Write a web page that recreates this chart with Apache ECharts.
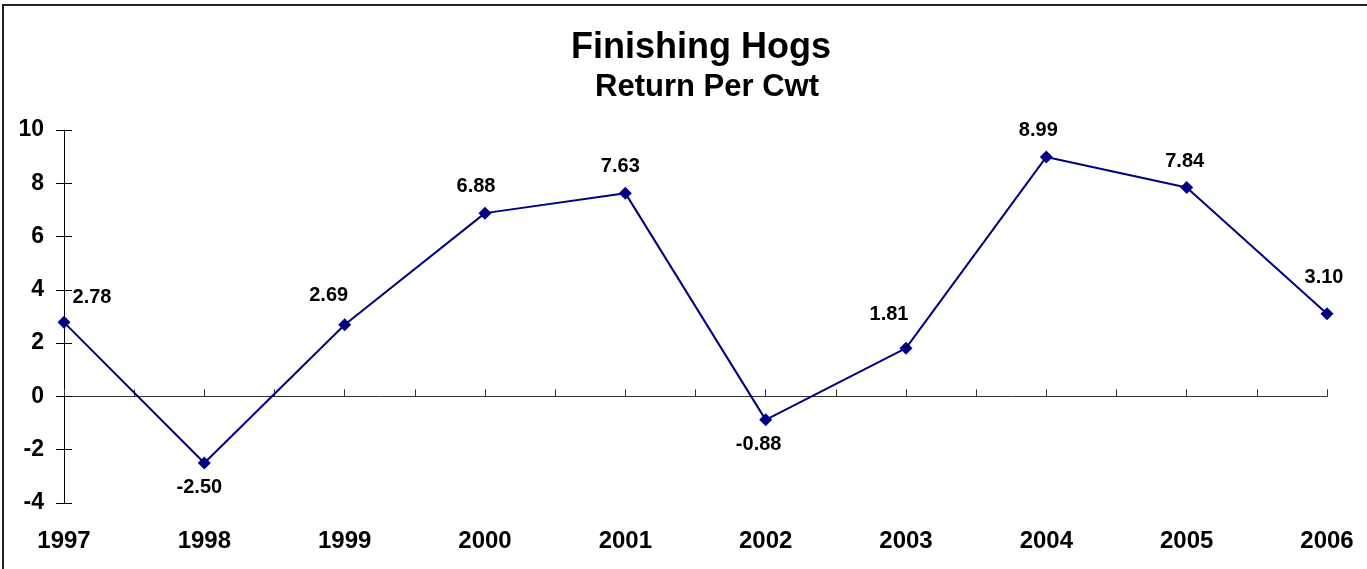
<!DOCTYPE html>
<html>
<head>
<meta charset="utf-8">
<script src="https://cdn.jsdelivr.net/npm/echarts@6/dist/echarts.min.js"></script>
<style>
  html, body { margin: 0; padding: 0; background: #fff; }
  #chart { width: 1367px; height: 569px; }
</style>
</head>
<body>
<div id="chart"></div>
<script>
// 年份与每百磅收益
const years = ['1997', '1998', '1999', '2000', '2001', '2002', '2003', '2004', '2005', '2006'];
const returns = [2.78, -2.50, 2.69, 6.88, 7.63, -0.88, 1.81, 8.99, 7.84, 3.10];
const yTicks = { min: -4, max: 10, interval: 2 };

// 半格刻度用的辅助类目（年份之间插空）
const halfSteps = years.flatMap((y, i) => (i === 0 ? [y] : ['', y]));

// 数据标签的微调（像素），按原图逐个挪
const labelNudge = [[28, 2], [-5, 0], [-16, -3], [-9, 0], [-5, 0], [-7, 0], [-17, -7], [-8, 0], [-2, 0], [-3, -10]];

const chart = echarts.init(document.getElementById('chart'));
const font = 'Arial, "Liberation Sans", sans-serif';

const option = {
  backgroundColor: '#fff',
  animation: false,
  graphic: [{
    type: 'rect',
    shape: { x: 3, y: 5, width: 1420, height: 620 },
    style: { fill: 'none', stroke: '#222', lineWidth: 2 },
    silent: true,
  }],
  title: [
    {
      text: 'Finishing Hogs',
      left: 696, top: 25,
      textAlign: 'center',
      textStyle: { fontFamily: font, fontWeight: 'bold', fontSize: 36, color: '#000' },
    },
    {
      text: 'Return Per Cwt',
      left: 702, top: 67,
      textAlign: 'center',
      textStyle: { fontFamily: font, fontWeight: 'bold', fontSize: 31, color: '#000' },
    },
  ],
  grid: { left: 64, right: 40, top: 130, bottom: 66 },
  xAxis: [
    {
      type: 'category',
      data: years,
      boundaryGap: false,
      axisLine: { onZero: true, lineStyle: { color: '#333', width: 1 } },
      axisTick: { inside: true, length: 7, lineStyle: { color: '#333' } },
      axisLabel: { show: false },
    },
    {
      type: 'category',
      data: halfSteps,
      boundaryGap: false,
      axisLine: { show: false, onZero: true },
      axisTick: { length: 7, interval: 0, lineStyle: { color: '#333' } },
      axisLabel: { show: false },
    },
    {
      type: 'category',
      data: years,
      boundaryGap: false,
      position: 'bottom',
      axisLine: { show: false, onZero: false },
      axisTick: { show: false },
      axisLabel: {
        margin: 26, interval: 0,
        fontFamily: font, fontWeight: 'bold', fontSize: 24, color: '#000',
      },
    },
  ],
  yAxis: [
    {
      type: 'value',
      min: yTicks.min, max: yTicks.max, interval: yTicks.interval,
      axisLine: { show: true, lineStyle: { color: '#000', width: 1 } },
      axisTick: { show: true, length: 8, lineStyle: { color: '#000' } },
      splitLine: { show: false },
      axisLabel: {
        margin: 20,
        fontFamily: font, fontWeight: 'bold', fontSize: 23, color: '#000',
      },
    },
    {
      type: 'value',
      min: yTicks.min, max: yTicks.max, interval: yTicks.interval,
      position: 'left',
      axisLine: { show: false },
      axisTick: { show: true, inside: true, length: 8, lineStyle: { color: '#000' } },
      splitLine: { show: false },
      axisLabel: { show: false },
    },
  ],
  series: [{
    name: 'Return Per Cwt',
    type: 'line',
    xAxisIndex: 0,
    yAxisIndex: 0,
    data: returns.map((v, i) => ({
      value: v,
      label: {
        position: v < 0 ? 'bottom' : 'top',
        distance: v < 0 ? 8 : 10,
        offset: labelNudge[i],
      },
    })),
    symbol: 'diamond',
    symbolSize: 13,
    lineStyle: { color: '#000080', width: 2 },
    itemStyle: { color: '#000080' },
    label: {
      show: true,
      formatter: p => p.value.toFixed(2),
      fontFamily: font, fontWeight: 'bold', fontSize: 20, color: '#000',
    },
  }],
};

chart.setOption(option);
</script>
</body>
</html>
